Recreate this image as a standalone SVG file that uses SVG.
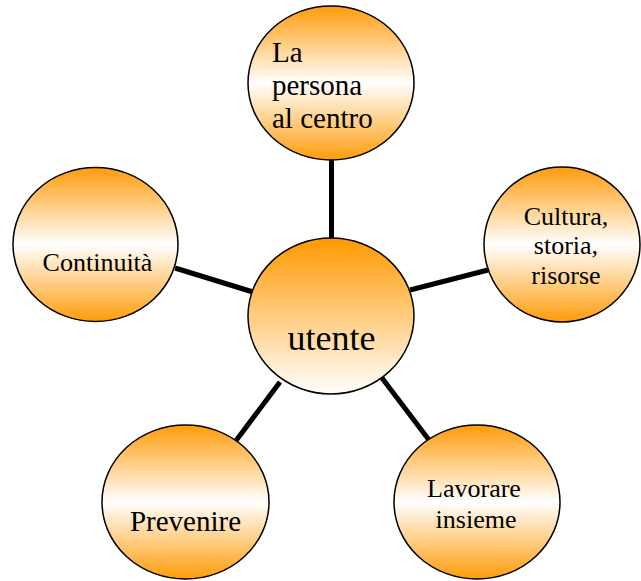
<svg xmlns="http://www.w3.org/2000/svg" width="641" height="581" viewBox="0 0 641 581">
<defs>
<linearGradient id="gAxial" x1="0" y1="0" x2="0" y2="1">
<stop offset="0" stop-color="#ff9c0a"/>
<stop offset="0.5" stop-color="#ffffff"/>
<stop offset="1" stop-color="#ff9c0a"/>
</linearGradient>
<linearGradient id="gCenter" x1="0" y1="0" x2="0" y2="1">
<stop offset="0" stop-color="#ff9900"/>
<stop offset="1" stop-color="#ffffff"/>
</linearGradient>
</defs>
<style>
.node{stroke:#000;stroke-width:1.5}
.outer{fill:url(#gAxial)}
.center{fill:url(#gCenter)}
.t{font-family:"Liberation Serif","Times New Roman",serif;fill:#000}
.conn line{stroke:#000;stroke-width:5;stroke-linecap:butt}
</style>
<g id="connectors" class="conn">
<line x1="331.5" y1="160" x2="331.5" y2="239"/>
<line x1="175" y1="268" x2="253" y2="292"/>
<line x1="410" y1="290" x2="488" y2="270"/>
<line x1="280" y1="382" x2="235" y2="442"/>
<line x1="382" y1="378" x2="429" y2="440"/>
</g>
<g id="node-centro">
<ellipse class="node outer" cx="331" cy="83" rx="83" ry="77"/>
<text class="t" font-size="29" x="272" y="62">La</text>
<text class="t" font-size="29" x="272" y="95">persona</text>
<text class="t" font-size="29" x="272" y="128">al centro</text>
</g>
<g id="node-cultura">
<ellipse class="node outer" cx="562" cy="244.5" rx="78" ry="77.5"/>
<text class="t" font-size="26" x="566" y="225" text-anchor="middle">Cultura,</text>
<text class="t" font-size="26" x="566" y="254" text-anchor="middle">storia,</text>
<text class="t" font-size="26" x="566" y="284" text-anchor="middle">risorse</text>
</g>
<g id="node-continuita">
<ellipse class="node outer" cx="95.5" cy="244.5" rx="82.5" ry="77"/>
<text class="t" font-size="26" x="97.5" y="271" text-anchor="middle">Continuità</text>
</g>
<g id="node-prevenire">
<ellipse class="node outer" cx="185.5" cy="502" rx="83.5" ry="77"/>
<text class="t" font-size="29" x="185.5" y="531" text-anchor="middle">Prevenire</text>
</g>
<g id="node-lavorare">
<ellipse class="node outer" cx="477" cy="502" rx="83" ry="77"/>
<text class="t" font-size="26" x="474" y="497" text-anchor="middle">Lavorare</text>
<text class="t" font-size="26" x="476" y="528" text-anchor="middle">insieme</text>
</g>
<g id="node-utente">
<ellipse class="node center" cx="331" cy="316" rx="83" ry="78"/>
<text class="t" font-size="36" x="331.5" y="350" text-anchor="middle">utente</text>
</g>
</svg>
